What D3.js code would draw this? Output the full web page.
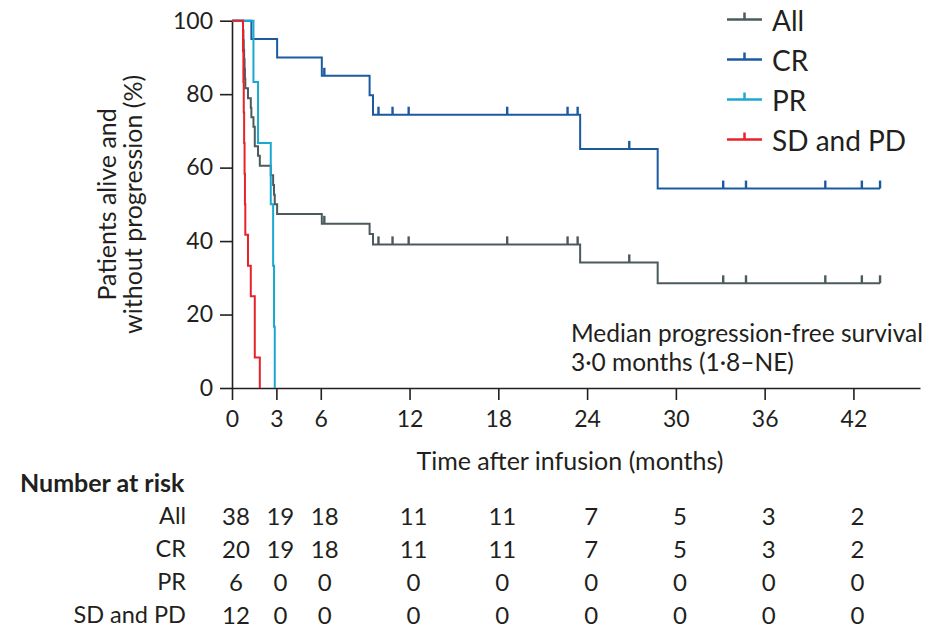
<!DOCTYPE html>
<html>
<head>
<meta charset="utf-8">
<script src="https://cdn.jsdelivr.net/npm/d3@7"></script>
<style>
	body { margin: 0; background: #fff; }
	text { font-family: Lato, 'Open Sans', sans-serif; fill: #231f20; }
</style>
</head>
<body>
<script>

// Kaplan-Meier steps (months, % progression-free)
const allTimes = [0, 0.745, 0.77, 0.795, 0.82, 0.85, 0.875, 0.9, 1.08, 1.27, 1.31, 1.45, 1.54, 1.76, 1.88, 2.62, 2.78, 2.84, 2.89, 3.05, 6.07, 9.3, 9.53, 23.53, 28.77, 43.8]
const allSurv  = [100, 97.4, 94.7, 92.1, 89.5, 86.8, 84.2, 81.6, 78.9, 76.3, 73.7, 71.1, 65.8, 63.2, 60.5, 57.9, 55.3, 52.6, 50, 47.4, 44.7, 41.9, 39.1, 34.2, 28.5, 28.5]

const crTimes = [0, 1.31, 3.05, 6.07, 9.3, 9.53, 23.53, 28.77, 43.8]
const crSurv  = [100, 95, 90, 85, 79.7, 74.4, 65.1, 54.3, 54.3]

const prTimes = [0, 1.45, 1.76, 2.62, 2.78, 2.84, 2.89]
const prSurv  = [100, 83.3, 66.7, 50, 33.3, 16.7, 0]

const sdTimes = [0, 0.745, 0.77, 0.795, 0.82, 0.85, 0.875, 0.9, 1.08, 1.27, 1.54, 1.88]
const sdSurv  = [100, 91.7, 83.3, 75, 66.7, 58.3, 50, 41.7, 33.3, 25, 8.3, 0]

// censored patients (same for All and CR)
const censorTimes = [6.24, 9.9, 10.85, 11.94, 18.6, 22.68, 23.36, 26.85, 33.2, 34.74, 40.1, 42.57, 43.8]

const xTicks = [0, 3, 6, 12, 18, 24, 30, 36, 42]
const yTicks = [0, 20, 40, 60, 80, 100]

// number at risk table
const riskTimes = [0, 3, 6, 12, 18, 24, 30, 36, 42]
const riskAll = [38, 19, 18, 11, 11, 7, 5, 3, 2]
const riskCR  = [20, 19, 18, 11, 11, 7, 5, 3, 2]
const riskPR  = [6, 0, 0, 0, 0, 0, 0, 0, 0]
const riskSD  = [12, 0, 0, 0, 0, 0, 0, 0, 0]

const groups = ['All', 'CR', 'PR', 'SD and PD']
const colors = ['#4a5a5d', '#1c5aa0', '#1ba8d0', '#e8222a']

const series = [
	{name: groups[0], color: colors[0], times: allTimes, surv: allSurv, censor: censorTimes},
	{name: groups[1], color: colors[1], times: crTimes, surv: crSurv, censor: censorTimes},
	{name: groups[2], color: colors[2], times: prTimes, surv: prSurv, censor: []},
	{name: groups[3], color: colors[3], times: sdTimes, surv: sdSurv, censor: []}
]
const risk = [riskAll, riskCR, riskPR, riskSD]

const svg = d3.select('body').append('svg')
	.attr('width', 938)
	.attr('height', 628)

const x = d3.scaleLinear().domain([0, 46.5]).range([232, 920])
const y = d3.scaleLinear().domain([0, 100]).range([388, 20.7])

//Axes
const xAxis = svg.append('g')
	.attr('transform', 'translate(0,' + y(0) + ')')
	.call(d3.axisBottom(x).tickValues(xTicks).tickSize(12).tickSizeOuter(0).tickPadding(11))
const yAxis = svg.append('g')
	.attr('transform', 'translate(' + x(0) + ',0)')
	.call(d3.axisLeft(y).tickValues(yTicks).tickSize(12).tickSizeOuter(0).tickPadding(7))

svg.selectAll('.domain, .tick line').attr('stroke', '#231f20').attr('stroke-width', 1.6)
svg.selectAll('.tick text').style('font-size', '23px').attr('fill', '#231f20')

svg.append('text')
	.attr('x', 570)
	.attr('y', 470)
	.attr('text-anchor', 'middle')
	.style('font-size', '25px')
	.text('Time after infusion (months)')

const yTitle = svg.append('text')
	.attr('transform', 'translate(0,' + y(50) + ') rotate(-90)')
	.attr('text-anchor', 'middle')
	.style('font-size', '25px')
yTitle.append('tspan').attr('x', 0).attr('y', 116).text('Patients alive and')
yTitle.append('tspan').attr('x', 0).attr('y', 142).text('without progression (%)')

//Curves
const line = d3.line()
	.x(d => x(d[0]))
	.y(d => y(d[1]))
	.curve(d3.curveStepAfter)

function survAt(s, t) {
	let i = d3.bisectRight(s.times, t) - 1
	return s.surv[i]
}

series.forEach(s => {
	let g = svg.append('g')
	g.append('path')
		.attr('fill', 'none')
		.attr('stroke', s.color)
		.attr('stroke-width', 2)
		.attr('d', line(d3.zip(s.times, s.surv)))

	//censor marks, small ticks standing on the curve
	g.selectAll('line')
		.data(s.censor)
		.enter()
		.append('line')
		.attr('x1', d => x(d))
		.attr('x2', d => x(d))
		.attr('y1', d => y(survAt(s, d)))
		.attr('y2', d => y(survAt(s, d)) - 8)
		.attr('stroke', s.color)
		.attr('stroke-width', 2.4)
})

//Legend
const legend = svg.append('g')
series.forEach((s, i) => {
	let ly = 19.5 + i * 40
	legend.append('line')
		.attr('x1', 727).attr('x2', 762)
		.attr('y1', ly).attr('y2', ly)
		.attr('stroke', s.color).attr('stroke-width', 2.5)
	legend.append('line')
		.attr('x1', 744.5).attr('x2', 744.5)
		.attr('y1', ly).attr('y2', ly - 7)
		.attr('stroke', s.color).attr('stroke-width', 2.5)
	legend.append('text')
		.attr('x', 772)
		.attr('y', ly)
		.attr('dominant-baseline', 'central')
		.style('font-size', '28px')
		.text(s.name)
})

//Median annotation
const note = svg.append('text')
	.style('font-size', '24.5px')
note.append('tspan').attr('x', 571).attr('y', 342).text('Median progression-free survival')
note.append('tspan').attr('x', 571).attr('y', 371).text('3·0 months (1·8–NE)')

//Number at risk
svg.append('text')
	.attr('x', 20)
	.attr('y', 482)
	.attr('dominant-baseline', 'central')
	.style('font-size', '25px')
	.style('font-weight', 'bold')
	.text('Number at risk')

risk.forEach((row, i) => {
	let ry = 515 + i * 33
	svg.append('text')
		.attr('x', 186)
		.attr('y', ry)
		.attr('text-anchor', 'end')
		.attr('dominant-baseline', 'central')
		.style('font-size', '23.5px')
		.text(groups[i])

	svg.append('g').selectAll('text')
		.data(row)
		.enter()
		.append('text')
		.attr('x', (d, j) => x(riskTimes[j]) + 4)
		.attr('y', ry)
		.attr('text-anchor', 'middle')
		.attr('dominant-baseline', 'central')
		.style('font-size', '24px')
		.text(d => d)
})

</script>
</body>
</html>
